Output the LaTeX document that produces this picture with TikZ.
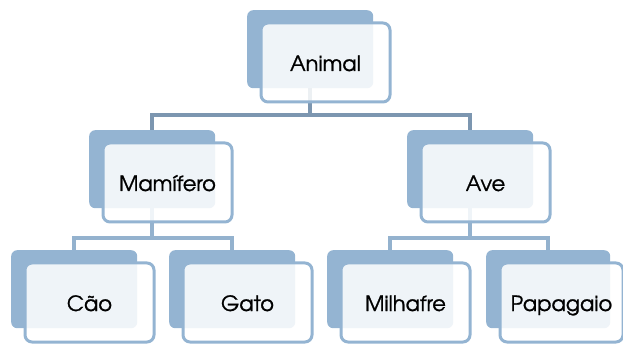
\documentclass[tikz,border=0pt]{standalone}
\usepackage{fontspec}
\setmainfont[FakeBold=1]{texgyreadventor-regular.otf}
\definecolor{shade}{RGB}{148,180,210}
\definecolor{linkdark}{RGB}{124,150,176}
\definecolor{linklight}{RGB}{148,178,206}
\tikzset{
  backbox/.style={draw=none, fill=shade, rounded corners=6pt,
    minimum width=126pt, minimum height=78pt, anchor=north west, inner sep=0pt},
  frontbox/.style={draw=shade, line width=3pt, fill=white, fill opacity=0.86,
    text opacity=1, rounded corners=7pt, minimum width=129pt, minimum height=79pt,
    anchor=north west, inner sep=0pt, font=\fontsize{21}{21}\selectfont,
    text height=20pt, text depth=3pt},
  toplink/.style={draw=linkdark, line width=4pt},
  lowlink/.style={draw=linklight, line width=4pt}
}
\begin{document}
\begin{tikzpicture}[x=1pt,y=-1pt]
\useasboundingbox (0,0) rectangle (623,344);
% shaded back panels
\node[backbox] (animalB)   at (247,10)  {};
\node[backbox] (mamB)      at (89,130)  {};
\node[backbox] (aveB)      at (407,130) {};
\node[backbox] (caoB)      at (11,250)  {};
\node[backbox] (gatoB)     at (169,250) {};
\node[backbox] (milB)      at (327,250) {};
\node[backbox, minimum width=124pt] (papB) at (486,250) {};
% connectors
\coordinate (lvlA) at (0,115.5);
\coordinate (lvlB) at (0,238);
\draw[toplink] (animalB.south) -- (animalB.south |- lvlA) -| (mamB.north);
\draw[toplink] (animalB.south |- lvlA) -| (aveB.north);
\draw[lowlink] (mamB.south) -- (mamB.south |- lvlB) -| (caoB.north);
\draw[lowlink] (mamB.south |- lvlB) -| (gatoB.north);
\draw[lowlink] (aveB.south) -- (aveB.south |- lvlB) -| (milB.north);
\draw[lowlink] (aveB.south |- lvlB) -| (papB.north);
% front panels with labels
\node[frontbox] (animalF) at (259.5,21.5)  {Animal};
\node[frontbox] (mamF)    at (101.5,141.5) {Mamífero};
\node[frontbox] (aveF)    at (419.5,141.5) {Ave};
\node[frontbox] (caoF)    at (23.5,261.5)  {Cão};
\node[frontbox] (gatoF)   at (181.5,261.5) {Gato};
\node[frontbox] (milF)    at (339.5,261.5) {Milhafre};
\node[frontbox, minimum width=123pt] (papF) at (498.5,261.5) {Papagaio};
\end{tikzpicture}
\end{document}
